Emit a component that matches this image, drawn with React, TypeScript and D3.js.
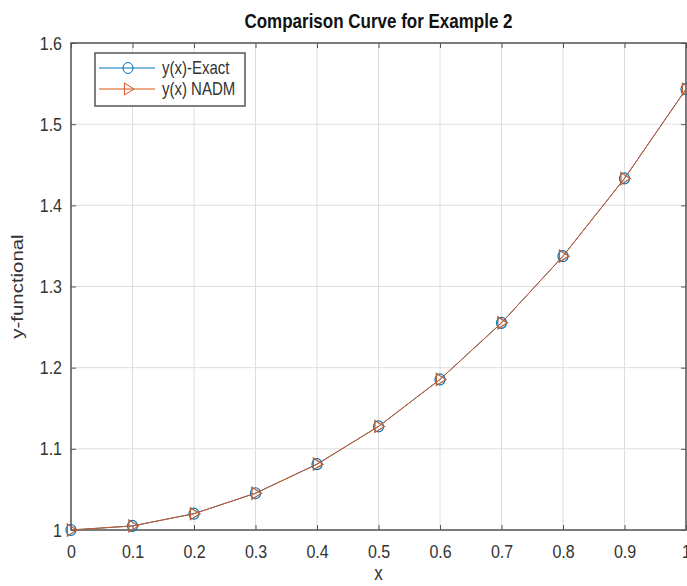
import React, { useEffect, useRef } from "react";
import * as d3 from "d3";

const xValues = [0, 0.1, 0.2, 0.3, 0.4, 0.5, 0.6, 0.7, 0.8, 0.9, 1.0];
const yExact = [1.0, 1.005, 1.0201, 1.0453, 1.0811, 1.1276, 1.1855, 1.2552, 1.3374, 1.4331, 1.5431];
const yNadm = [1.0, 1.005, 1.0201, 1.0453, 1.0811, 1.1276, 1.1855, 1.2552, 1.3374, 1.4331, 1.5431];
const xTicks = [0, 0.1, 0.2, 0.3, 0.4, 0.5, 0.6, 0.7, 0.8, 0.9, 1];
const yTicks = [1, 1.1, 1.2, 1.3, 1.4, 1.5, 1.6];
const seriesNames = ["y(x)-Exact", "y(x) NADM"];

const width = 687;
const height = 586;
const FONT = "'Liberation Sans', Arial, Helvetica, sans-serif";
const BLUE = "#0072BD";
const ORANGE = "#D95319";
const AXIS = "#555555";
const TEXT = "#333333";
const SY = 1.2; // the picture is stretched a bit vertically

const App = () => {
  const ref = useRef<SVGSVGElement>(null);

  useEffect(() => {
    const svg = d3.select(ref.current);
    svg.selectAll("*").remove();

    const margin = { top: 43, right: 1, bottom: 56, left: 71 };
    const innerWidth = width - margin.left - margin.right;
    const innerHeight = height - margin.top - margin.bottom;

    const xScale = d3.scaleLinear().domain([0, 1]).range([0, innerWidth]);
    const yScale = d3.scaleLinear().domain([1, 1.6]).range([innerHeight, 0]);

    svg.append("rect").attr("width", width).attr("height", height).attr("fill", "#fff");

    const g = svg.append("g").attr("transform", `translate(${margin.left},${margin.top})`);

    // grid
    g.selectAll(".vgrid")
      .data(xTicks)
      .enter()
      .append("line")
      .attr("x1", (d) => xScale(d))
      .attr("x2", (d) => xScale(d))
      .attr("y1", 0)
      .attr("y2", innerHeight)
      .attr("stroke", "#dedede")
      .attr("stroke-width", 1);
    g.selectAll(".hgrid")
      .data(yTicks)
      .enter()
      .append("line")
      .attr("x1", 0)
      .attr("x2", innerWidth)
      .attr("y1", (d) => yScale(d))
      .attr("y2", (d) => yScale(d))
      .attr("stroke", "#dedede")
      .attr("stroke-width", 1);

    // axes
    const xAxis = d3.axisBottom(xScale).tickValues(xTicks).tickSize(-5).tickPadding(14)
      .tickFormat((d) => d3.format("")(+d));
    const xTop = d3.axisTop(xScale).tickValues(xTicks).tickSize(-5).tickFormat(() => "");
    const yAxis = d3.axisLeft(yScale).tickValues(yTicks).tickSize(-5).tickPadding(9)
      .tickFormat((d) => d3.format("")(+d));
    const yRight = d3.axisRight(yScale).tickValues(yTicks).tickSize(-5).tickFormat(() => "");

    const styleAxis = (sel: any) => {
      sel.selectAll("path").attr("stroke", AXIS).attr("stroke-width", 1.5);
      sel.selectAll("line").attr("stroke", AXIS);
      sel.selectAll("text")
        .attr("fill", TEXT)
        .style("font-family", FONT)
        .style("font-size", "16px")
        .each(function (this: any) {
          const t = d3.select(this);
          const x = +t.attr("x") || 0;
          const y = +t.attr("y") || 0;
          t.attr("x", 0).attr("y", 0).attr("transform", `translate(${x},${y}) scale(1,${SY})`);
        });
    };

    g.append("g").attr("transform", `translate(0,${innerHeight})`).call(xAxis).call(styleAxis);
    g.append("g").call(xTop).call(styleAxis);
    g.append("g").call(yAxis).call(styleAxis);
    g.append("g").attr("transform", `translate(${innerWidth},0)`).call(yRight).call(styleAxis);
    g.selectAll(".domain").attr("d", null);
    g.append("rect")
      .attr("width", innerWidth)
      .attr("height", innerHeight)
      .attr("fill", "none")
      .attr("stroke", AXIS)
      .attr("stroke-width", 1.5);

    const line = d3
      .line<number>()
      .x((_, i) => xScale(xValues[i]))
      .y((d) => yScale(d));

    const tri = (cx: number, cy: number, s: number) =>
      `M${cx - s * 0.6},${cy - s} L${cx + s},${cy} L${cx - s * 0.6},${cy + s} Z`;

    // Exact series
    g.append("path").datum(yExact).attr("d", line).attr("fill", "none").attr("stroke", BLUE).attr("stroke-width", 1);
    g.selectAll(".pt-exact")
      .data(yExact)
      .enter()
      .append("ellipse")
      .attr("cx", (_, i) => xScale(xValues[i]))
      .attr("cy", (d) => yScale(d))
      .attr("rx", 5)
      .attr("ry", 5.5)
      .attr("fill", "none")
      .attr("stroke", BLUE)
      .attr("stroke-width", 1.2);

    // NADM series
    g.append("path").datum(yNadm).attr("d", line).attr("fill", "none").attr("stroke", ORANGE).attr("stroke-width", 1);
    g.selectAll(".pt-nadm")
      .data(yNadm)
      .enter()
      .append("path")
      .attr("d", (d, i) => tri(xScale(xValues[i]), yScale(d), 6))
      .attr("fill", "none")
      .attr("stroke", "#b5603a")
      .attr("stroke-width", 1.3);

    // legend
    const lg = svg.append("g").attr("transform", "translate(95,53)");
    lg.append("rect").attr("width", 150).attr("height", 53).attr("fill", "#fff").attr("stroke", AXIS).attr("stroke-width", 1.5);
    const colors = [BLUE, ORANGE];
    seriesNames.forEach((name, i) => {
      const y = 15 + i * 21;
      lg.append("line").attr("x1", 4).attr("x2", 60).attr("y1", y).attr("y2", y).attr("stroke", colors[i]).attr("stroke-width", 1);
      if (i === 0) {
        lg.append("ellipse").attr("cx", 33).attr("cy", y).attr("rx", 5).attr("ry", 5.5).attr("fill", "none").attr("stroke", BLUE);
      } else {
        lg.append("path").attr("d", tri(33, y, 6)).attr("fill", "none").attr("stroke", ORANGE);
      }
      lg.append("text")
        .attr("transform", `translate(67,${y}) scale(1,${SY})`)
        .attr("dy", "0.35em")
        .attr("fill", TEXT)
        .style("font-family", FONT)
        .style("font-size", "15px")
        .text(name);
    });

    // title and labels
    svg.append("text")
      .attr("transform", `translate(${margin.left + innerWidth / 2},28) scale(1,${SY})`)
      .attr("text-anchor", "middle")
      .attr("fill", "#111")
      .style("font-family", FONT)
      .style("font-size", "17px")
      .style("font-weight", "bold")
      .text("Comparison Curve for Example 2");
    svg.append("text")
      .attr("transform", `translate(${margin.left + innerWidth / 2},580) scale(1,${SY})`)
      .attr("text-anchor", "middle")
      .attr("fill", TEXT)
      .style("font-family", FONT)
      .style("font-size", "17px")
      .text("x");
    svg.append("text")
      .attr("transform", `translate(23,${margin.top + innerHeight / 2}) scale(1,${SY}) rotate(-90)`)
      .attr("text-anchor", "middle")
      .attr("fill", TEXT)
      .style("font-family", FONT)
      .style("font-size", "17px")
      .text("y-functional");
  }, []);

  return (
    <svg
      ref={ref}
      width={width}
      height={height}
      style={{ position: "absolute", left: 0, top: 0 }}
    />
  );
};

export default App;
